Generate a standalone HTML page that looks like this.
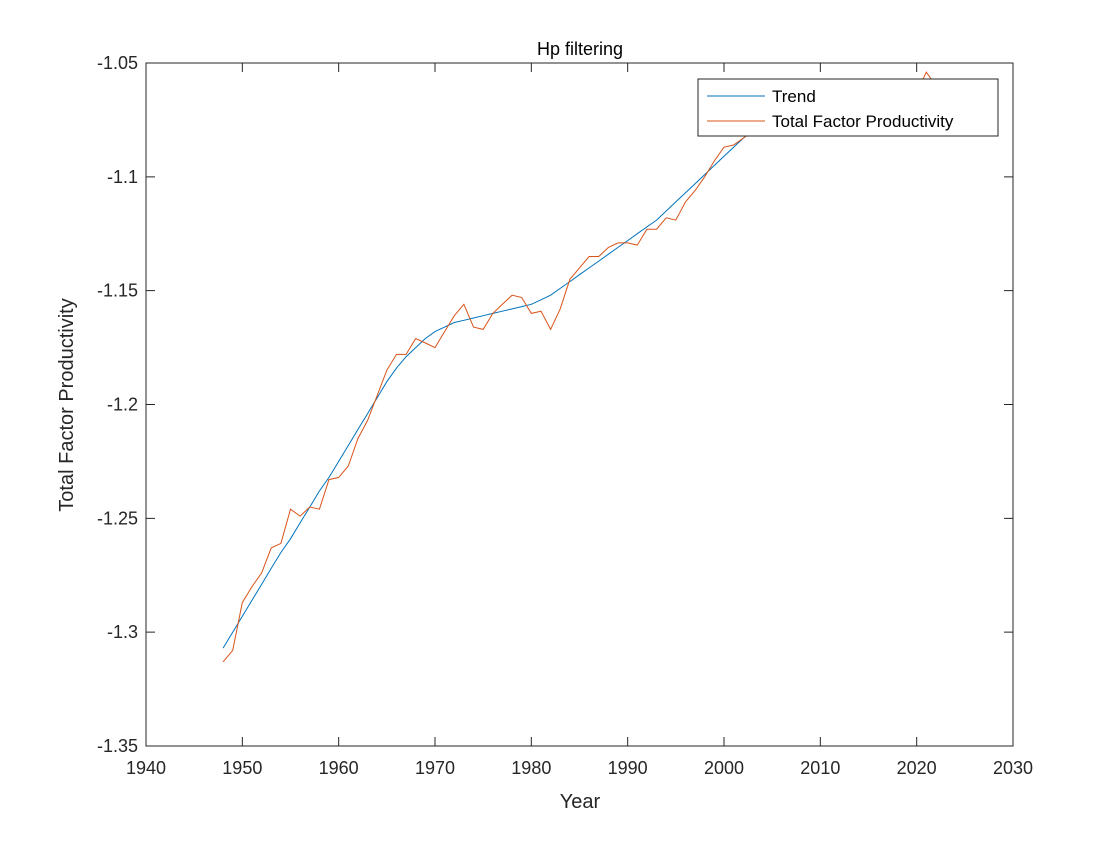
<!DOCTYPE html>
<html><head><meta charset="utf-8"><style>
body{margin:0;background:#fff;}
svg{font-family:"Liberation Sans",Arial,sans-serif;}
</style></head><body>
<svg id="chart" width="1120" height="840" xmlns="http://www.w3.org/2000/svg">
<rect width="1120" height="840" fill="#fff"/>
<g id="plot"></g>
<rect x="146" y="63" width="867" height="683" fill="none" stroke="#262626" stroke-width="1"/>
<g id="ticks"></g>
<text x="580" y="55" text-anchor="middle" font-size="18" fill="#000">Hp filtering</text>
<text x="580" y="808" text-anchor="middle" font-size="20" fill="#262626">Year</text>
<text transform="translate(73,405) rotate(-90)" text-anchor="middle" font-size="20" fill="#262626">Total Factor Productivity</text>
<g>
<rect x="698" y="79" width="300" height="57" fill="#fff" stroke="#262626" stroke-width="1"/>
<line x1="707" y1="96" x2="765" y2="96" stroke="#0072BD" stroke-width="1"/>
<text x="772" y="102" font-size="17" fill="#000">Trend</text>
<line x1="707" y1="121" x2="765" y2="121" stroke="#D95319" stroke-width="1"/>
<text x="772" y="127" font-size="17" fill="#000">Total Factor Productivity</text>
</g>
</svg>
<script>
const years = [];
for (let y = 1948; y <= 2022; y++) years.push(y);
const tfpValues = [-1.313,-1.308,-1.287,-1.280,-1.274,-1.263,-1.261,-1.246,-1.249,-1.245,-1.246,-1.233,-1.232,-1.227,-1.215,-1.207,-1.196,-1.185,-1.178,-1.178,-1.171,-1.173,-1.175,-1.168,-1.161,-1.156,-1.166,-1.167,-1.160,-1.156,-1.152,-1.153,-1.160,-1.159,-1.167,-1.158,-1.145,-1.140,-1.135,-1.135,-1.131,-1.129,-1.129,-1.130,-1.123,-1.123,-1.118,-1.119,-1.111,-1.106,-1.100,-1.093,-1.087,-1.086,-1.083,-1.080,-1.078,-1.076,-1.075,-1.073,-1.074,-1.072,-1.070,-1.071,-1.069,-1.068,-1.067,-1.066,-1.065,-1.064,-1.063,-1.062,-1.063,-1.054,-1.060];
const trendValues = [-1.307,-1.300,-1.293,-1.286,-1.279,-1.272,-1.265,-1.259,-1.252,-1.245,-1.238,-1.232,-1.225,-1.218,-1.211,-1.204,-1.197,-1.190,-1.184,-1.179,-1.175,-1.171,-1.168,-1.166,-1.164,-1.163,-1.162,-1.161,-1.160,-1.159,-1.158,-1.157,-1.156,-1.154,-1.152,-1.149,-1.146,-1.143,-1.140,-1.137,-1.134,-1.131,-1.128,-1.125,-1.122,-1.119,-1.115,-1.111,-1.107,-1.103,-1.099,-1.095,-1.091,-1.087,-1.083,-1.080,-1.078,-1.076,-1.074,-1.073,-1.071,-1.070,-1.069,-1.068,-1.067,-1.066,-1.066,-1.065,-1.065,-1.064,-1.064,-1.063,-1.063,-1.063,-1.062];
const xTicks = [1940,1950,1960,1970,1980,1990,2000,2010,2020,2030];
const yTicks = [-1.35,-1.3,-1.25,-1.2,-1.15,-1.1,-1.05];
const yTickLabels = ["-1.35","-1.3","-1.25","-1.2","-1.15","-1.1","-1.05"];

const X0=146,X1=1013,Y0=746,Y1=63;
const xs = v => X0 + (v-1940)/(2030-1940)*(X1-X0);
const ys = v => Y0 - (v-(-1.35))/(0.3)*(Y0-Y1);
const NS="http://www.w3.org/2000/svg";
const plot=document.getElementById('plot');
function line(vals,color,name){
  const p=document.createElementNS(NS,'polyline');
  p.setAttribute('points',vals.map((v,i)=>xs(years[i]).toFixed(1)+','+ys(v).toFixed(1)).join(' '));
  p.setAttribute('fill','none');p.setAttribute('stroke',color);p.setAttribute('stroke-width','1');
  
  
  plot.appendChild(p);
}
line(trendValues,'#0072BD','trend-line');
line(tfpValues,'#D95319','tfp-line');
const tg=document.getElementById('ticks');
xTicks.forEach(t=>{
  const x=xs(t);
  const l=document.createElementNS(NS,'path');
  l.setAttribute('d',`M${x},${Y0}v-9M${x},${Y1}v9`);l.setAttribute('stroke','#262626');
  
  
  tg.appendChild(l);
  const tx=document.createElementNS(NS,'text');
  tx.setAttribute('x',x);tx.setAttribute('y',Y0+28);tx.setAttribute('text-anchor','middle');
  tx.setAttribute('font-size','18');tx.setAttribute('fill','#262626');tx.textContent=t;
  
  
  tg.appendChild(tx);
});
yTicks.forEach((t,i)=>{
  const y=ys(t);
  const l=document.createElementNS(NS,'path');
  l.setAttribute('d',`M${X0},${y}h9M${X1},${y}h-9`);l.setAttribute('stroke','#262626');
  
  
  tg.appendChild(l);
  const tx=document.createElementNS(NS,'text');
  tx.setAttribute('x',X0-8);tx.setAttribute('y',y+6);tx.setAttribute('text-anchor','end');
  tx.setAttribute('font-size','18');tx.setAttribute('fill','#262626');tx.textContent=yTickLabels[i];
  
  
  tg.appendChild(tx);
});
</script>
</body></html>
